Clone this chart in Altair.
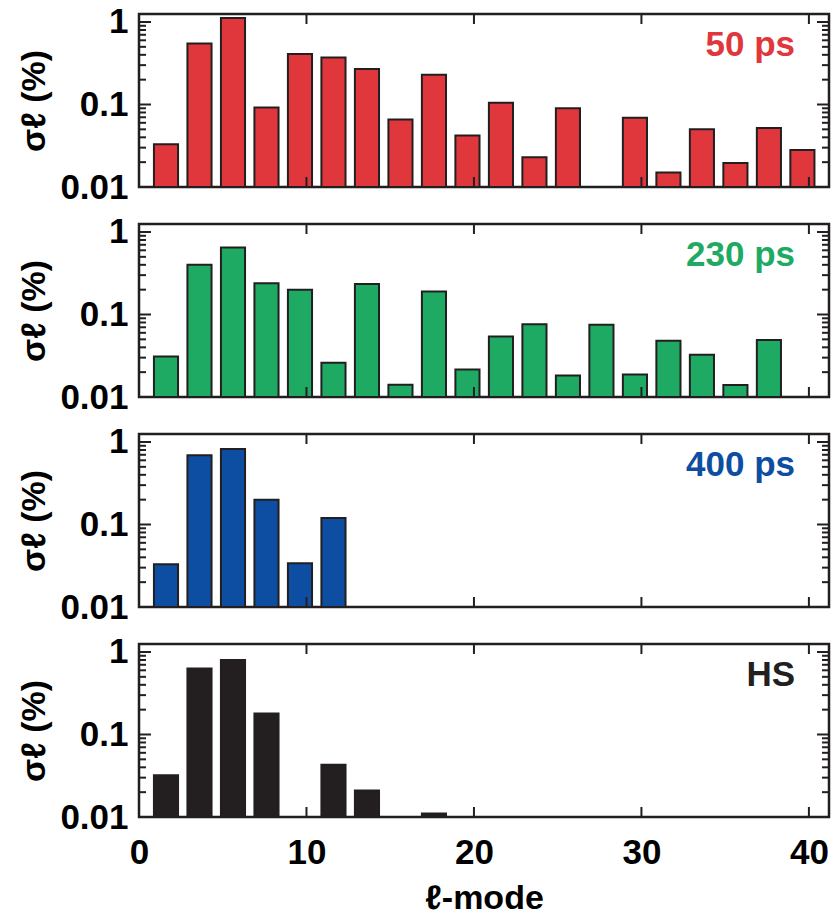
import altair as alt
import pandas as pd

# ---- data ----
l_50 = [2, 4, 6, 8, 10, 12, 14, 16, 18, 20, 22, 24, 26, 30, 32, 34, 36, 38, 40]
s_50 = [0.033, 0.55, 1.12, 0.092, 0.41, 0.37, 0.27, 0.066, 0.23, 0.042, 0.105,
        0.023, 0.09, 0.069, 0.015, 0.05, 0.0196, 0.052, 0.028]

l_230 = [2, 4, 6, 8, 10, 12, 14, 16, 18, 20, 22, 24, 26, 28, 30, 32, 34, 36, 38]
s_230 = [0.031, 0.40, 0.65, 0.24, 0.20, 0.026, 0.235, 0.0141, 0.19, 0.0215, 0.054,
         0.076, 0.0182, 0.075, 0.0187, 0.048, 0.0325, 0.0140, 0.049]

l_400 = [2, 4, 6, 8, 10, 12]
s_400 = [0.033, 0.69, 0.82, 0.20, 0.034, 0.12]

l_hs = [2, 4, 6, 8, 12, 14, 18]
s_hs = [0.032, 0.63, 0.80, 0.18, 0.043, 0.021, 0.011]

panel_labels = ["50 ps", "230 ps", "400 ps", "HS"]
panel_colors = ["#E0373D", "#1FAA64", "#0D4EA3", "#231F20"]

y_major = [0.01, 0.1, 1]
y_minor = [0.02, 0.03, 0.04, 0.05, 0.06, 0.07, 0.08, 0.09,
           0.2, 0.3, 0.4, 0.5, 0.6, 0.7, 0.8, 0.9]
x_major = [10, 20, 30, 40]
x_tick_labels = [0, 10, 20, 30, 40]

W, H = 690, 173
DARK = "#231F20"
FONT = "Liberation Sans"
LBL = 35

xs = alt.Scale(domain=[0, 41.2], nice=False, zero=False)
ys = alt.Scale(type="log", domain=[0.01, 1.25], nice=False)


def panel(l, s, color, label, show_x):
    df = pd.DataFrame({"l": l, "s": s})
    if show_x:
        xaxis = alt.Axis(values=x_tick_labels, ticks=False, domain=False, grid=False,
                         labelFontSize=LBL, labelFont=FONT, labelFontWeight="bold",
                         labelColor="black", labelPadding=18, labelFlush=False,
                         title="ℓ-mode", titleFontSize=34, titleFont=FONT,
                         titleFontWeight="bold", titleColor="black", titlePadding=11)
    else:
        xaxis = None
    yaxis = alt.Axis(values=y_major, ticks=False, domain=False, grid=False,
                     labelExpr="datum.value >= 1 ? '1' : (datum.value >= 0.1 ? '0.1' : '0.01')",
                     labelFontSize=LBL, labelFont=FONT, labelFontWeight="bold",
                     labelColor="black", labelPadding=11,
                     title="σℓ (%)", titleFontSize=34, titleFont=FONT,
                     titleFontWeight="bold", titleColor="black", titlePadding=8)
    bars = alt.Chart(df).transform_calculate(
        x1="datum.l - 0.72", x2="datum.l + 0.72"
    ).mark_bar(color=color, stroke=DARK, strokeWidth=2,
               xOffset=-6.5, x2Offset=-6.5).encode(
        x=alt.X("x1:Q", scale=xs, axis=xaxis),
        x2="x2:Q",
        y=alt.Y("s:Q", scale=ys, axis=yaxis),
        y2=alt.datum(0.01),
    )
    ymaj = alt.Chart(pd.DataFrame({"v": y_major}))
    ymin = alt.Chart(pd.DataFrame({"v": y_minor}))
    xmaj = alt.Chart(pd.DataFrame({"v": x_major}))
    ty = lambda c, a, b: c.mark_rule(color=DARK, strokeWidth=2).encode(
        y=alt.Y("v:Q", scale=ys, axis=yaxis), x=alt.value(a), x2=alt.value(b))
    tx = lambda c, a, b: c.mark_rule(color=DARK, strokeWidth=2).encode(
        x=alt.X("v:Q", scale=xs, axis=xaxis), y=alt.value(a), y2=alt.value(b))
    ticks = [
        ty(ymaj, 0, 12), ty(ymaj, W, W - 12),
        ty(ymin, 0, 7), ty(ymin, W, W - 7),
        tx(xmaj, 0, 10), tx(xmaj, H, H - 10),
    ]
    text = alt.Chart(pd.DataFrame({"t": [label]})).mark_text(
        align="right", baseline="alphabetic", fontSize=35, font=FONT,
        fontWeight="bold", color=color
    ).encode(text="t:N", x=alt.value(656), y=alt.value(42))
    return alt.layer(bars, *ticks, text).properties(width=W, height=H)


panels = [
    panel(l_50, s_50, panel_colors[0], panel_labels[0], False),
    panel(l_230, s_230, panel_colors[1], panel_labels[1], False),
    panel(l_400, s_400, panel_colors[2], panel_labels[2], False),
    panel(l_hs, s_hs, panel_colors[3], panel_labels[3], True),
]

chart = alt.vconcat(*panels, spacing=37, bounds="flush").properties(
    padding={"left": 16, "top": 3, "right": 7, "bottom": 0}
).configure(background="white").configure_view(stroke=DARK, strokeWidth=2.5)

chart.save("out.html", embed_options={"renderer": "svg", "actions": False})
